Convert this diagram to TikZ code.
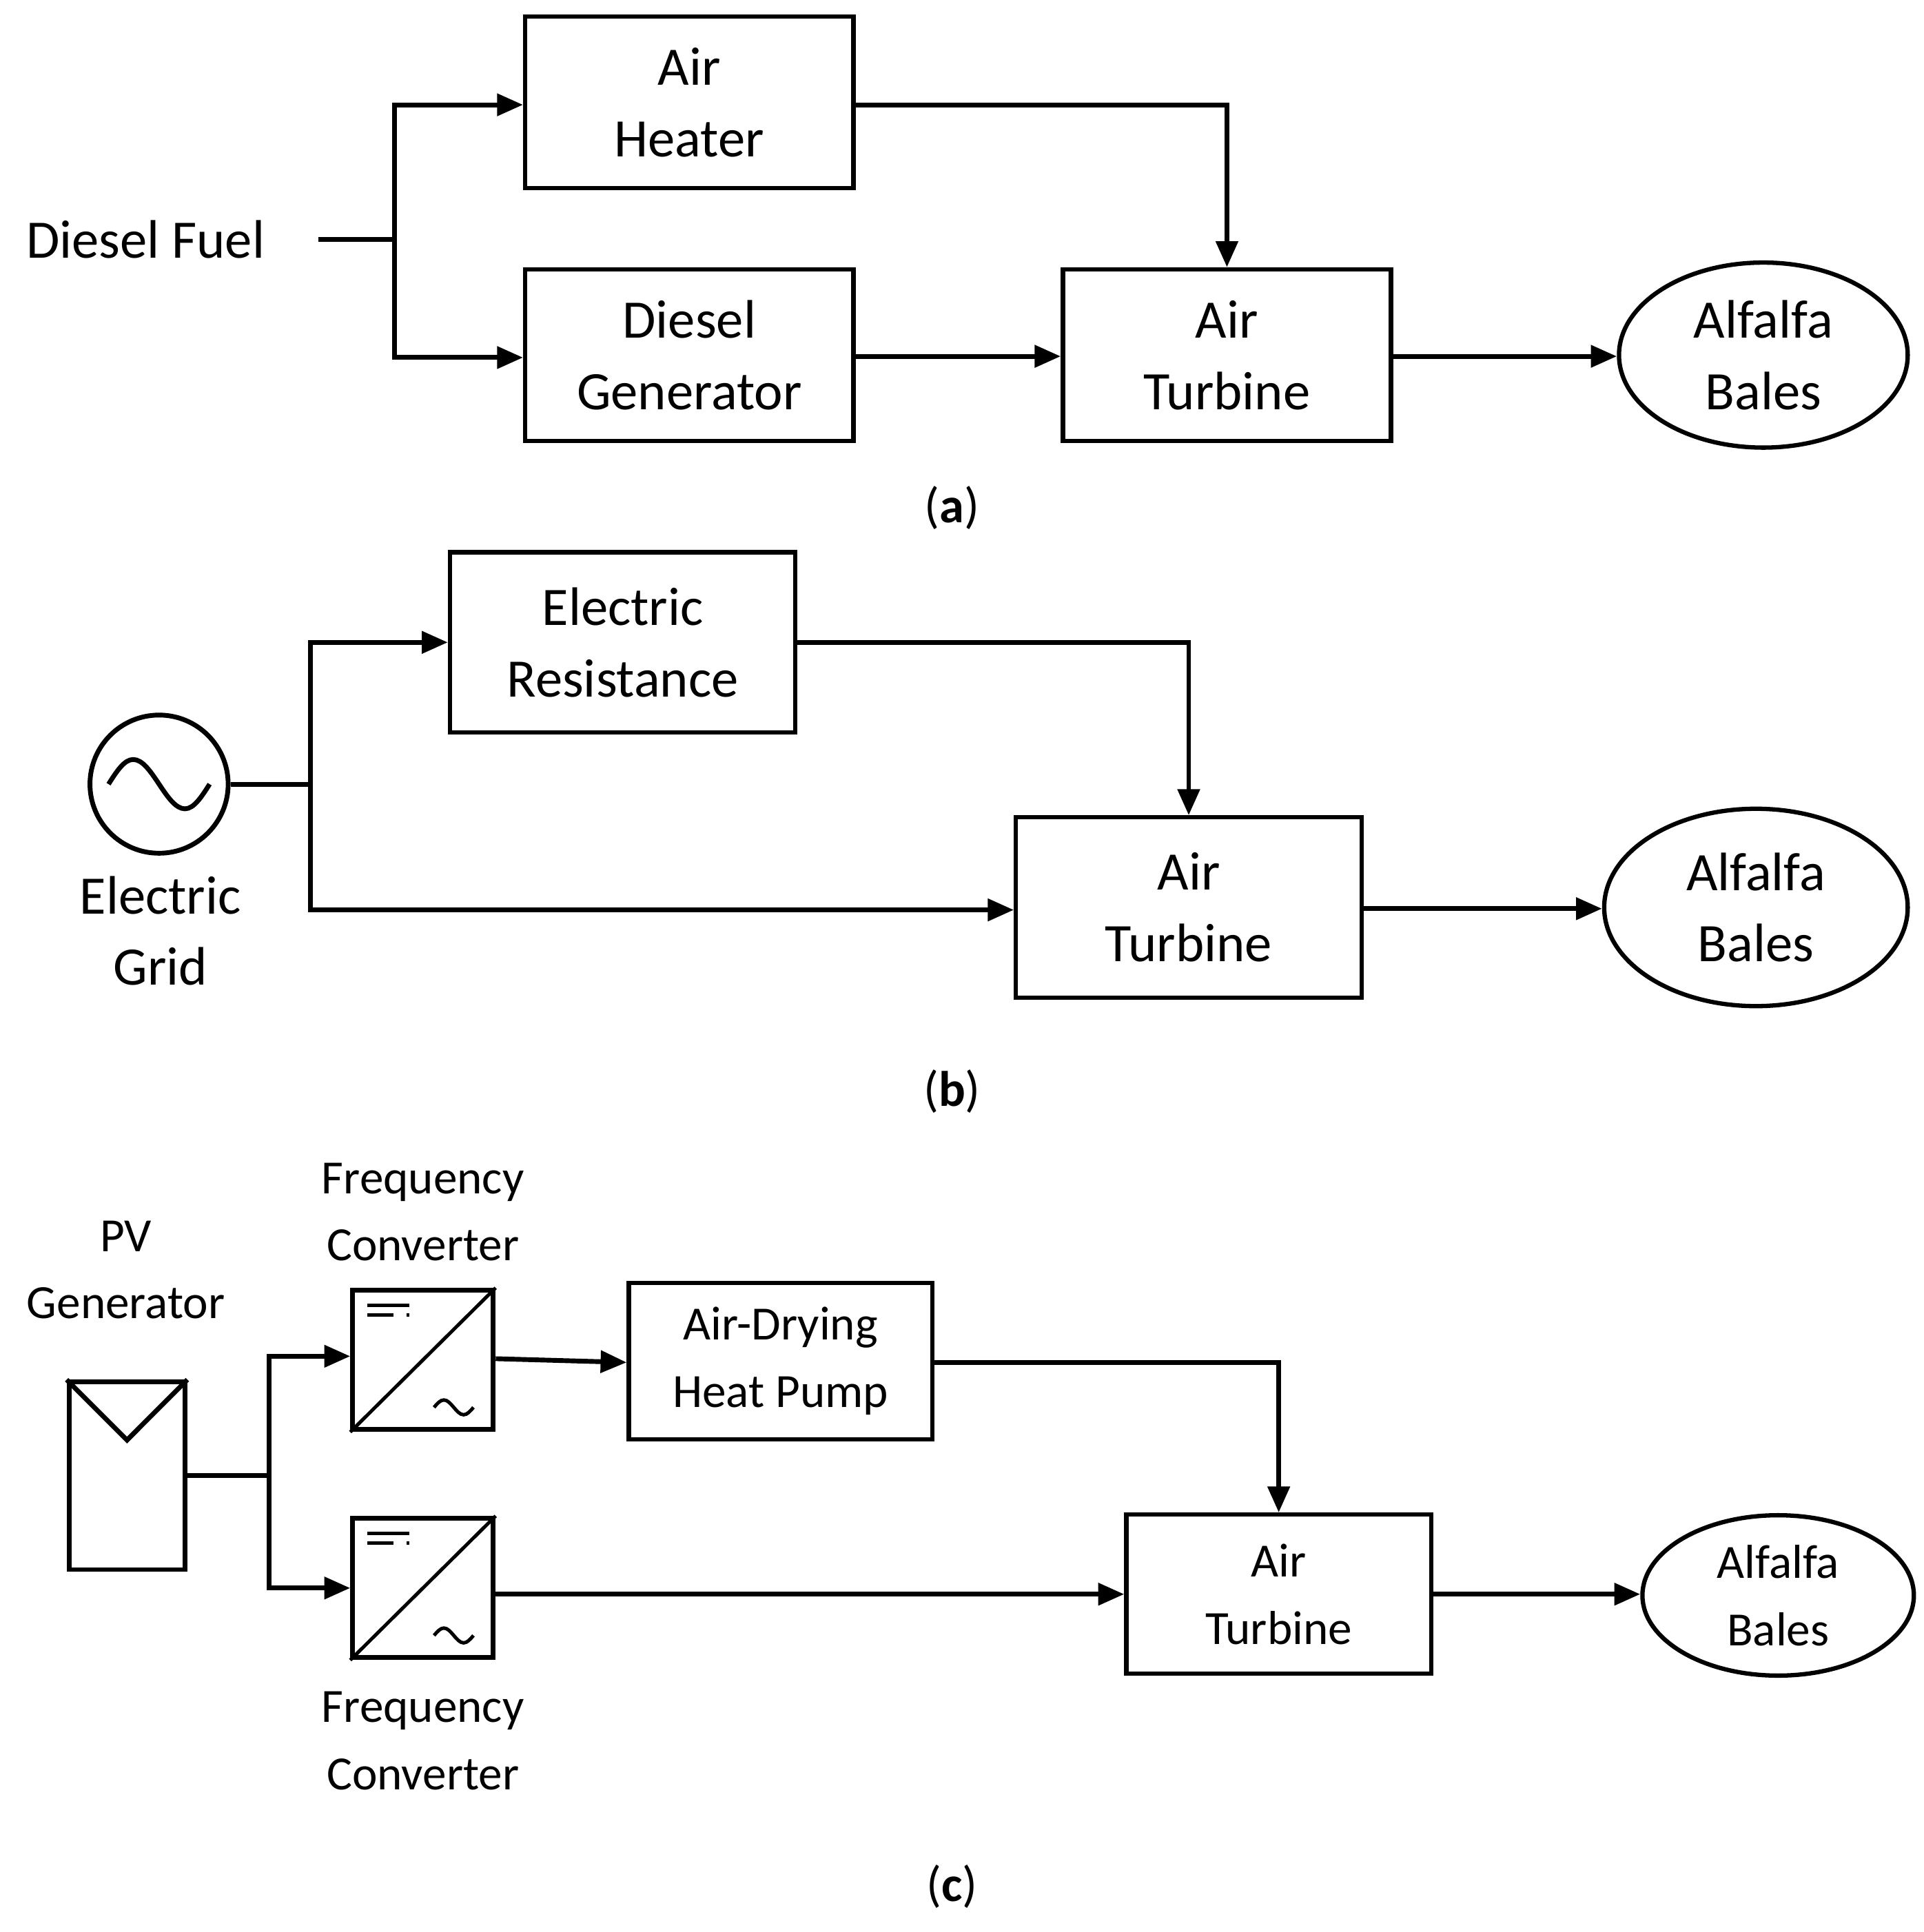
\documentclass[tikz,border=0pt]{standalone}
\usepackage{fontspec}
\setmainfont{Carlito}
\usetikzlibrary{arrows.meta,shapes.geometric}
\begin{document}
\begin{tikzpicture}[x=0.01cm,y=-0.01cm,
  box/.style={draw,line width=1pt,align=center,font=\fontsize{12.5}{16.5}\selectfont,inner sep=0pt},
  ell/.style={draw,line width=1pt,ellipse,align=center,font=\fontsize{12.5}{16.5}\selectfont,inner sep=0pt},
  lab/.style={align=center,font=\fontsize{12.5}{16.5}\selectfont},
  labc/.style={align=center,font=\fontsize{11}{15.5}\selectfont},
  boxc/.style={box,font=\fontsize{11}{15.5}\selectfont},
  captext/.style={font=\fontsize{11.5}{14}\selectfont\rmfamily},
  con/.style={line width=1.1pt},
  arr/.style={con,-{Triangle[length=6pt,width=5pt]}}]
\useasboundingbox (0,0) rectangle (1560,1567);
% (a)
\node[box,minimum width=2.66cm,minimum height=1.39cm] (ah) at (559,83) {Air\\Heater};
\node[box,minimum width=2.66cm,minimum height=1.39cm] (dg) at (559,288) {Diesel\\Generator};
\node[box,minimum width=2.66cm,minimum height=1.39cm] (at1) at (995,288) {Air\\Turbine};
\node[ell,minimum width=2.34cm,minimum height=1.5cm] (ab1) at (1430,288) {Alfalfa\\Bales};
\node[lab] (df) at (118,194) {Diesel Fuel};
\coordinate (dfe) at (258,194); \coordinate (j1) at (320,194);
\draw[con] (dfe) -- (j1);
\draw[arr] (j1) |- (ah.west|-0,85);
\draw[arr] (j1) |- (dg.west|-0,290);
\draw[arr] (ah.east|-0,85) -| (at1.north);
\draw[arr] (dg.east|-0,289) -- (at1.west|-0,289);
\draw[arr] (at1.east|-0,289) -- (ab1.west|-0,289);
\node[captext] (ca) at (772,412) {(\textbf{a})};
% (b)
\node[box,minimum width=2.8cm,minimum height=1.46cm] (er) at (505,521) {Electric\\Resistance};
\node[box,minimum width=2.8cm,minimum height=1.46cm] (at2) at (964,736) {Air\\Turbine};
\node[ell,minimum width=2.46cm,minimum height=1.6cm] (ab2) at (1424,736) {Alfalfa\\Bales};
\node[draw,circle,line width=1.1pt,minimum size=1.12cm,inner sep=0pt] (grid) at (129,636) {};
\draw[line width=1.1pt] (88,636) sin (108,616) cos (129,636) sin (150,656) cos (170,636);
\node[lab] (gl) at (130,755) {Electric\\Grid};
\coordinate (j2) at (252,636);
\draw[con] (grid.east) -- (j2);
\draw[arr] (j2) |- (er.west);
\draw[arr] (j2) |- (at2.west|-0,738);
\draw[arr] (er.east) -| (at2.north);
\draw[arr] (at2.east|-0,737) -- (ab2.west|-0,737);
\node[captext] (cb) at (772,885) {(\textbf{b})};
% (c)
\node[labc] (pvl) at (102,1030) {PV\\Generator};
\node[draw,line width=1.1pt,minimum width=0.94cm,minimum height=1.52cm,inner sep=0pt] (pv) at (103,1197) {};
\draw[line width=1.1pt] (pv.north west) -- (103,1168) -- (pv.north east);
\node[draw,line width=1.1pt,minimum width=1.14cm,minimum height=1.13cm,inner sep=0pt] (fc1) at (343,1103) {};
\node[draw,line width=1.1pt,minimum width=1.14cm,minimum height=1.13cm,inner sep=0pt] (fc2) at (343,1288) {};
\foreach \f in {fc1,fc2}{
  \draw[line width=0.8pt] (\f.south west) -- (\f.north east);
  \draw[line width=0.8pt] ([shift={(14,14)}]\f.north west) -- ++(34,0);
  \draw[line width=0.8pt,dash pattern=on 6pt off 3pt] ([shift={(14,22)}]\f.north west) -- ++(34,0);
  \draw[line width=0.8pt] ([shift={(-50,-20)}]\f.south east) sin ++(8,-6) cos ++(8,6) sin ++(8,6) cos ++(8,-6);
}
\node[labc] (fl1) at (343,983) {Frequency\\Converter};
\node[labc] (fl2) at (343,1412) {Frequency\\Converter};
\node[boxc,minimum width=2.46cm,minimum height=1.27cm] (hp) at (633,1104) {Air-Drying\\Heat Pump};
\node[boxc,minimum width=2.47cm,minimum height=1.29cm] (at3) at (1037,1293) {Air\\Turbine};
\node[ell,font=\fontsize{11}{15.5}\selectfont,minimum width=2.2cm,minimum height=1.3cm] (ab3) at (1442,1294) {Alfalfa\\Bales};
\coordinate (j3) at (218,1197);
\draw[con] (pv.east|-0,1197) -- (j3);
\draw[arr] (j3) |- (fc1.west|-0,1100);
\draw[arr] (j3) |- (fc2.west|-0,1288);
\draw[arr] (fc1.east|-0,1102) -- (hp.west|-0,1105);
\draw[arr] (hp.east|-0,1105) -| (at3.north);
\draw[arr] (fc2.east|-0,1293) -- (at3.west|-0,1293);
\draw[arr] (at3.east|-0,1293) -- (ab3.west|-0,1293);
\node[captext] (cc) at (772,1530) {(\textbf{c})};
\end{tikzpicture}
\end{document}
